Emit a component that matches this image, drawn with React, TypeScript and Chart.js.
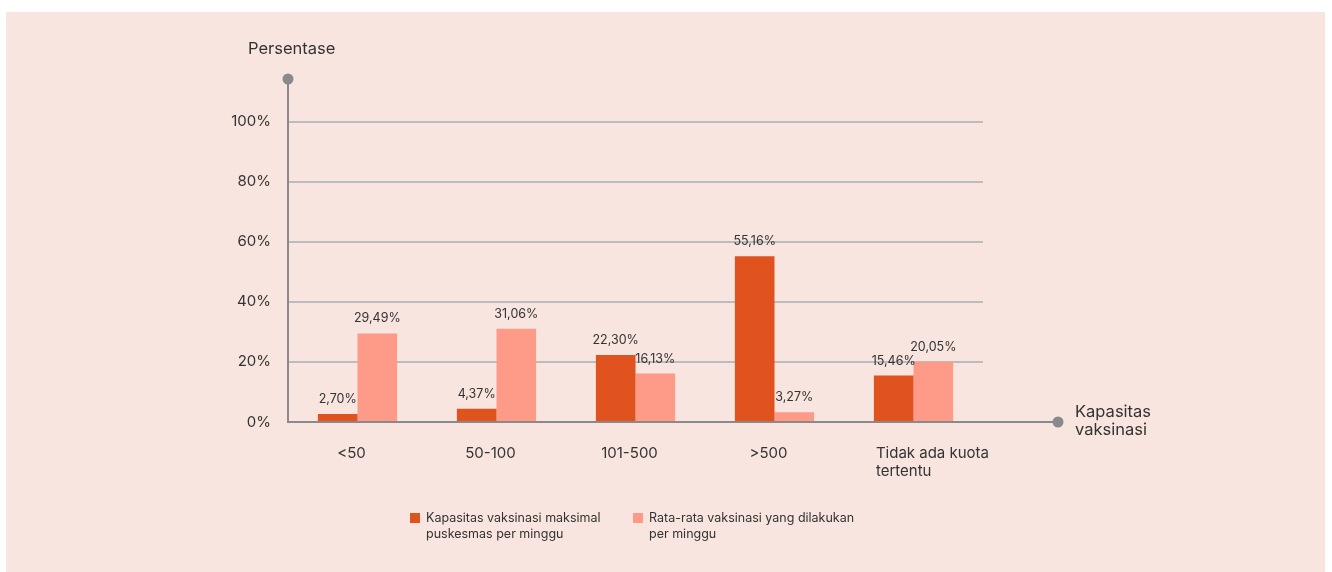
import { useEffect, useRef } from "react";
import { Chart, registerables } from "chart.js";

Chart.register(...registerables);

// Categories of weekly vaccination capacity
const categories = ["<50", "50-100", "101-500", ">500", "Tidak ada kuota tertentu"];
const categoryLines = [["<50"], ["50-100"], ["101-500"], [">500"], ["Tidak ada kuota", "tertentu"]];

// Percentages per category
const kapasitasMaksimal = [2.7, 4.37, 22.3, 55.16, 15.46];
const rataRataDilakukan = [29.49, 31.06, 16.13, 3.27, 20.05];

const seriesNames = [
  ["Kapasitas vaksinasi maksimal", "puskesmas per minggu"],
  ["Rata-rata vaksinasi yang dilakukan", "per minggu"],
];
const seriesColors = ["#E0521E", "#FD9A88"];

const yTickValues = [0, 20, 40, 60, 80, 100];
const yTitle = "Persentase";
const xTitle = ["Kapasitas", "vaksinasi"];

const FONT = "Inter, 'Open Sans', sans-serif";
const TEXT = "#333333";
const AXIS = "#8a8a8c";
const BG = "#F8E5DF";

const W = 1319;
const H = 560;

const fmt = (v: number) => v.toFixed(2).replace(".", ",") + "%";

const overlay = {
  id: "overlay",
  afterDatasetsDraw(chart: any) {
    const { ctx, chartArea, scales } = chart;
    const { left, right, top, bottom } = chartArea;
    const xs = scales.x;
    const ys = scales.y;
    ctx.save();

    // axes with end dots
    ctx.strokeStyle = AXIS;
    ctx.fillStyle = AXIS;
    ctx.lineWidth = 2;
    const xEnd = right + 75;
    ctx.beginPath();
    ctx.moveTo(left, top);
    ctx.lineTo(left, bottom);
    ctx.lineTo(xEnd, bottom);
    ctx.stroke();
    ctx.beginPath();
    ctx.arc(left, top, 5.5, 0, Math.PI * 2);
    ctx.fill();
    ctx.beginPath();
    ctx.arc(xEnd, bottom, 5.5, 0, Math.PI * 2);
    ctx.fill();

    ctx.fillStyle = TEXT;

    // y tick labels
    ctx.font = `15px ${FONT}`;
    ctx.textAlign = "right";
    ctx.textBaseline = "middle";
    ys.ticks.forEach((t: any) => {
      ctx.fillText(t.value + "%", left - 17, ys.getPixelForValue(t.value));
    });

    // category labels
    const meta0 = chart.getDatasetMeta(0);
    categoryLines.forEach((lines, i) => {
      const cx = xs.getPixelForValue(i);
      if (lines.length > 1) {
        const bar = meta0.data[i];
        const x0 = bar.x - bar.width / 2 + 2;
        ctx.textAlign = "left";
        lines.forEach((line, k) => ctx.fillText(line, x0, bottom + 31 + k * 18));
      } else {
        ctx.textAlign = "center";
        ctx.fillText(lines[0], cx - 6, bottom + 31);
      }
    });

    // axis titles
    ctx.font = `16.5px ${FONT}`;
    ctx.textAlign = "left";
    ctx.fillText(yTitle, left - 40, top - 30);
    xTitle.forEach((line, i) => {
      ctx.fillText(line, xEnd + 17, bottom - 10 + i * 18);
    });

    // value labels above bars
    ctx.font = `12.5px ${FONT}`;
    ctx.textAlign = "center";
    ctx.textBaseline = "alphabetic";
    chart.data.datasets.forEach((ds: any, di: number) => {
      const meta = chart.getDatasetMeta(di);
      meta.data.forEach((el: any, i: number) => {
        ctx.fillText(fmt(ds.data[i]), el.x, el.y - 11);
      });
    });

    // legend
    const legendX = [left + 122, left + 345];
    const legendY = bottom + 96;
    ctx.font = `12.5px ${FONT}`;
    ctx.textBaseline = "middle";
    ctx.textAlign = "left";
    seriesNames.forEach((lines, i) => {
      ctx.fillStyle = seriesColors[i];
      ctx.fillRect(legendX[i], legendY - 5, 10, 10);
      ctx.fillStyle = TEXT;
      lines.forEach((line, k) => ctx.fillText(line, legendX[i] + 16, legendY + k * 16));
    });

    ctx.restore();
  },
};

export default function App() {
  const ref = useRef<HTMLCanvasElement>(null);

  useEffect(() => {
    if (!ref.current) return;
    const chart = new Chart(ref.current, {
      type: "bar",
      data: {
        labels: categories,
        datasets: [
          {
            label: seriesNames[0].join(" "),
            data: kapasitasMaksimal,
            backgroundColor: seriesColors[0],
            categoryPercentage: 0.57,
            barPercentage: 1,
          },
          {
            label: seriesNames[1].join(" "),
            data: rataRataDilakukan,
            backgroundColor: seriesColors[1],
            categoryPercentage: 0.57,
            barPercentage: 1,
          },
        ],
      },
      options: {
        responsive: false,
        animation: false,
        layout: { padding: { left: 282, right: 342, top: 67, bottom: 150 } },
        plugins: { legend: { display: false }, tooltip: { enabled: false } },
        scales: {
          x: {
            grid: { display: false, drawTicks: false },
            border: { display: false },
            ticks: { display: false },
          },
          y: {
            min: 0,
            max: 114.2,
            afterBuildTicks: (scale: any) => {
              scale.ticks = yTickValues.map((v) => ({ value: v }));
            },
            grid: { color: "#bcbcbc", lineWidth: 2, drawTicks: false },
            border: { display: false },
            ticks: { display: false },
          },
        },
      },
      plugins: [overlay],
    });
    return () => chart.destroy();
  }, []);

  return (
    <div
      style={{
        position: "absolute",
        left: 6,
        top: 12,
        width: W,
        height: H,
        background: BG,
      }}
    >
      <canvas ref={ref} width={W} height={H} style={{ display: "block" }} />
    </div>
  );
}
